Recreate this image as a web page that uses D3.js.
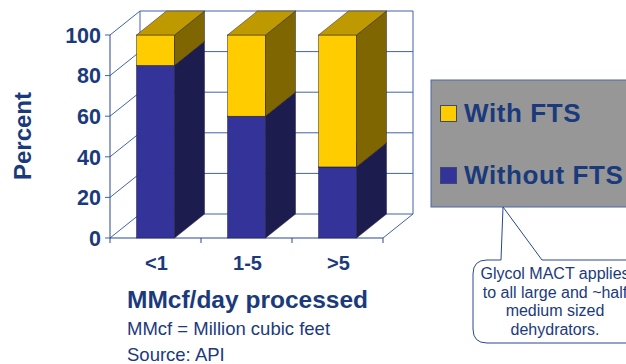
<!DOCTYPE html>
<html><head><meta charset="utf-8">
<script src="https://cdn.jsdelivr.net/npm/d3@7"></script>
<style>body{margin:0;background:#fff;overflow:hidden}svg{display:block}text{font-family:"Liberation Sans",Arial,sans-serif}</style>
</head><body>
<svg id="c" width="626" height="364"></svg>
<script>
const categories = ["<1", "1-5", ">5"];
const withoutFTS = [85, 60, 35];
const withFTS = [15, 40, 65];
const yTicks = [0, 20, 40, 60, 80, 100];
const seriesNames = ["With FTS", "Without FTS"];
const calloutLines = ["Glycol MACT applies", "to all large and ~half", "medium sized", "dehydrators."];

const svg = d3.select("#c");
const txt = "#1b3a7c", grid = "#4262aa";
const dx = 30, dy = 24;
const x = d3.scaleBand().domain(categories).range([110, 383]).paddingInner(0.582).paddingOuter(0.291);
const y = d3.scaleLinear().domain([0, 100]).range([238, 35]);

// walls
const g = svg.append("g");
yTicks.forEach(v => {
  g.append("line").attr("x1", 110 + dx).attr("x2", 383 + dx).attr("y1", y(v) - dy).attr("y2", y(v) - dy).attr("stroke", grid).attr("stroke-width", 1);
  g.append("line").attr("x1", 110).attr("x2", 110 + dx).attr("y1", y(v)).attr("y2", y(v) - dy).attr("stroke", grid).attr("stroke-width", 1);
  g.append("line").attr("x1", 105).attr("x2", 110).attr("y1", y(v)).attr("y2", y(v)).attr("stroke", grid);
});
g.append("line").attr("x1", 110 + dx).attr("x2", 110 + dx).attr("y1", y(100) - dy).attr("y2", y(0) - dy).attr("stroke", grid);
g.append("line").attr("x1", 383 + dx).attr("x2", 383 + dx).attr("y1", y(100) - dy).attr("y2", y(0) - dy).attr("stroke", grid);
g.append("line").attr("x1", 383).attr("x2", 383 + dx).attr("y1", y(0)).attr("y2", y(0) - dy).attr("stroke", grid);
g.append("line").attr("x1", 110).attr("x2", 110).attr("y1", y(100)).attr("y2", y(0)).attr("stroke", "#2a4690");
g.append("line").attr("x1", 110).attr("x2", 383).attr("y1", y(0)).attr("y2", y(0)).attr("stroke", "#2a4690");
[0, 1, 2, 3].forEach(i => {
  const xx = i === 0 ? 110 : x(categories[i - 1]) + x.bandwidth() / 2 + x.step() / 2;
  g.append("line").attr("x1", xx).attr("x2", xx).attr("y1", y(0)).attr("y2", y(0) + 5).attr("stroke", "#2a4690");
});

// bars
const colors = {
  without: { front: "#333399", side: "#1c1c4e", top: "#2a2a80" },
  with: { front: "#ffcc00", side: "#806600", top: "#bf9900" }
};
function bar3d(x0, w, v0, v1, c) {
  const yt = y(v1), yb = y(v0);
  const sw = 0.5, sc = "#222244";
  g.append("rect").attr("x", x0).attr("y", yt).attr("width", w).attr("height", yb - yt).attr("fill", c.front).attr("stroke", sc).attr("stroke-width", sw);
  g.append("path").attr("d", `M${x0 + w},${yt}L${x0 + w + dx},${yt - dy}L${x0 + w + dx},${yb - dy}L${x0 + w},${yb}Z`).attr("fill", c.side).attr("stroke", sc).attr("stroke-width", sw);
  g.append("path").attr("d", `M${x0},${yt}L${x0 + dx},${yt - dy}L${x0 + w + dx},${yt - dy}L${x0 + w},${yt}Z`).attr("fill", c.top).attr("stroke", sc).attr("stroke-width", sw);
}
categories.forEach((cat, i) => {
  const x0 = x(cat), w = x.bandwidth();
  bar3d(x0, w, 0, withoutFTS[i], colors.without);
  bar3d(x0, w, withoutFTS[i], withoutFTS[i] + withFTS[i], colors.with);
});

// y labels
yTicks.forEach(v => {
  svg.append("text").attr("x", 101).attr("y", y(v)).attr("dy", "0.36em").attr("text-anchor", "end")
    .attr("font-size", 21.5).attr("font-weight", "bold").attr("fill", txt).text(v);
});
svg.append("text").attr("transform", "translate(31,136) rotate(-90)").attr("text-anchor", "middle")
  .attr("font-size", 24).attr("font-weight", "bold").attr("fill", txt).text("Percent");
categories.forEach(cat => {
  svg.append("text").attr("x", x(cat) + x.bandwidth() / 2 + 1).attr("y", 270).attr("text-anchor", "middle")
    .attr("font-size", 20).attr("font-weight", "bold").attr("fill", txt).text(cat);
});
svg.append("text").attr("x", 127).attr("y", 308).attr("font-size", 24.5).attr("font-weight", "bold").attr("fill", txt).text("MMcf/day processed");
svg.append("text").attr("x", 127).attr("y", 335).attr("font-size", 18.5).attr("fill", txt).text("MMcf = Million cubic feet");
svg.append("text").attr("x", 127).attr("y", 361).attr("font-size", 18.5).attr("fill", txt).text("Source: API");

// legend
svg.append("rect").attr("x", 431).attr("y", 80).attr("width", 220).attr("height", 127).attr("fill", "#979797").attr("stroke", "#4a68a8").attr("stroke-width", 1);
const legColors = [colors.with.front, colors.without.front];
const legBase = [122, 184];
seriesNames.forEach((n, i) => {
  svg.append("rect").attr("x", 440.5).attr("y", legBase[i] - 16.5).attr("width", 16).attr("height", 16).attr("fill", legColors[i]).attr("stroke", "#3a4a70").attr("stroke-width", 1);
  svg.append("text").attr("x", 464).attr("y", legBase[i]).attr("font-size", 26).attr("font-weight", "bold").attr("letter-spacing", 0.6).attr("fill", txt).text(n);
});

// callout
const L = 473, T = 260, R = 660, B = 343, r = 14;
const p = d3.path();
p.moveTo(L + r, T);
p.lineTo(501, T);
p.lineTo(503, 207);
p.lineTo(542, T);
p.lineTo(R - r, T);
p.quadraticCurveTo(R, T, R, T + r);
p.lineTo(R, B - r);
p.quadraticCurveTo(R, B, R - r, B);
p.lineTo(L + r, B);
p.quadraticCurveTo(L, B, L, B - r);
p.lineTo(L, T + r);
p.quadraticCurveTo(L, T, L + r, T);
svg.append("path").attr("d", p.toString()).attr("fill", "#fff").attr("stroke", "#2a4690").attr("stroke-width", 1);
calloutLines.forEach((s, i) => {
  svg.append("text").attr("x", 555).attr("y", 279 + i * 18.5).attr("text-anchor", "middle").attr("font-size", 16).attr("fill", txt).text(s);
});
</script>
</body></html>
